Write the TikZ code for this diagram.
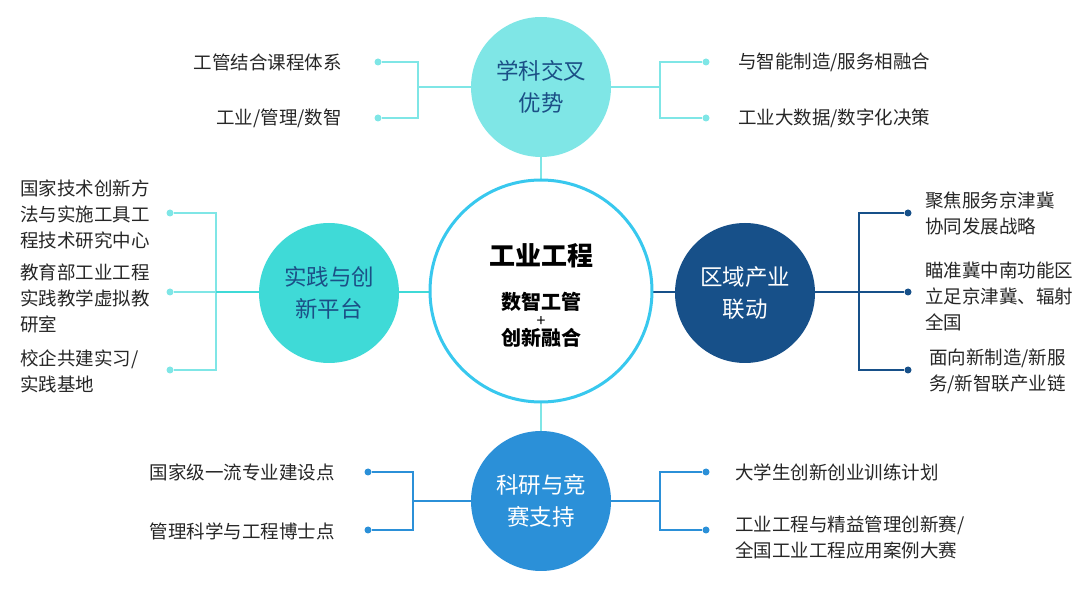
\documentclass[tikz,border=0pt]{standalone}
\usepackage{fontspec}
\setmainfont{Noto Sans CJK SC}
\begin{document}
\begin{tikzpicture}[x=1pt,y=-1pt,
  lab/.style={font=\fontsize{18.5}{26}\selectfont,text=black!85,inner sep=0pt,align=left},
  big/.style={circle,minimum size=140pt,inner sep=0pt,align=center,font=\fontsize{22.5}{32}\selectfont},
  dot/.style={circle,fill=#1,minimum size=7pt,inner sep=0pt}]
\definecolor{cTop}{HTML}{7FE6E6}
\definecolor{cLeft}{HTML}{3FDAD7}
\definecolor{cRight}{HTML}{175089}
\definecolor{cBot}{HTML}{2B90D8}
\definecolor{cRing}{HTML}{38C8EE}
\definecolor{cTxt}{HTML}{1B4F86}
\useasboundingbox (0,0) rectangle (1080,593);
\coordinate (tl) at (418,87); \coordinate (tr) at (660,87);
\coordinate (ll) at (216,292); \coordinate (rr) at (859,292);
\coordinate (bl) at (413,501); \coordinate (br) at (660,501);
\node[dot=cTop] (d1) at (378,62) {}; \node[dot=cTop] (d2) at (378,118) {};
\node[dot=cTop] (d3) at (706,62) {}; \node[dot=cTop] (d4) at (706,118) {};
\node[dot=cTop] (d5) at (170,213) {}; \node[dot=cTop] (d6) at (170,292) {}; \node[dot=cTop] (d7) at (170,370) {};
\node[dot=cRight] (d8) at (908,213) {}; \node[dot=cRight] (d9) at (908,292) {}; \node[dot=cRight] (d10) at (908,370) {};
\node[dot=cBot] (d11) at (368,472) {}; \node[dot=cBot] (d12) at (368,530) {};
\node[dot=cBot] (d13) at (706,472) {}; \node[dot=cBot] (d14) at (706,530) {};
\begin{scope}[line width=1.8pt]
\draw[cTop] (d1) -| (tl) |- (d2); \draw[cTop] (tl) -- (541,87);
\draw[cTop] (d3) -| (tr) |- (d4); \draw[cTop] (tr) -- (541,87);
\draw[cTop] (d5) -| (ll) |- (d7); \draw[cTop] (d6) -- (ll);
\draw[cLeft] (ll) -- (541,292);
\draw[cRight] (d8) -| (rr) |- (d10); \draw[cRight] (d9) -- (rr) -- (541,292);
\draw[cBot] (d11) -| (bl) |- (d12); \draw[cBot] (bl) -- (541,501);
\draw[cBot] (d13) -| (br) |- (d14); \draw[cBot] (br) -- (541,501);
\draw[cTop] (541,87) -- (541,501);
\end{scope}
\node[circle,draw=cRing,line width=3pt,fill=white,minimum size=222pt,inner sep=0pt] (c) at (541,291) {};
\node[font=\bfseries\fontsize{26}{30}\selectfont] (ct) at (541,256) {工业工程};
\node[font=\bfseries\fontsize{20}{22}\selectfont,align=center] (cs) at (541,320) {数智工管\\[-5pt]{\normalfont\fontsize{16}{16}\selectfont +}\\[-3pt]创新融合};
\node[big,fill=cTop,text=cTxt] (t) at (541,87) {学科交叉\\优势};
\node[big,fill=cLeft,text=cTxt] (l) at (329,293) {实践与创\\新平台};
\node[big,fill=cRight,text=white] (r) at (745,293) {区域产业\\联动};
\node[big,fill=cBot,text=white] (b) at (541,501) {科研与竞\\赛支持};
\node[lab,anchor=east] (a1) at (342,62) {工管结合课程体系};
\node[lab,anchor=east] (a2) at (342,118) {工业/管理/数智};
\node[lab,anchor=west] (a3) at (738,62) {与智能制造/服务相融合};
\node[lab,anchor=west] (a4) at (738,118) {工业大数据/数字化决策};
\node[lab,anchor=west] (a5) at (20,214) {国家技术创新方\\法与实施工具工\\程技术研究中心};
\node[lab,anchor=west] (a6) at (20,298) {教育部工业工程\\实践教学虚拟教\\研室};
\node[lab,anchor=west] (a7) at (20,371) {校企共建实习/\\实践基地};
\node[lab,anchor=west] (a8) at (925,213) {聚焦服务京津冀\\协同发展战略};
\node[lab,anchor=west] (a9) at (925,296) {瞄准冀中南功能区\\立足京津冀、辐射\\全国};
\node[lab,anchor=west] (a10) at (929,371) {面向新制造/新服\\务/新智联产业链};
\node[lab,anchor=east] (a11) at (335,472) {国家级一流专业建设点};
\node[lab,anchor=east] (a12) at (335,531) {管理科学与工程博士点};
\node[lab,anchor=west] (a13) at (735,472) {大学生创新创业训练计划};
\node[lab,anchor=west] (a14) at (735,537) {工业工程与精益管理创新赛/\\全国工业工程应用案例大赛};
\end{tikzpicture}
\end{document}
